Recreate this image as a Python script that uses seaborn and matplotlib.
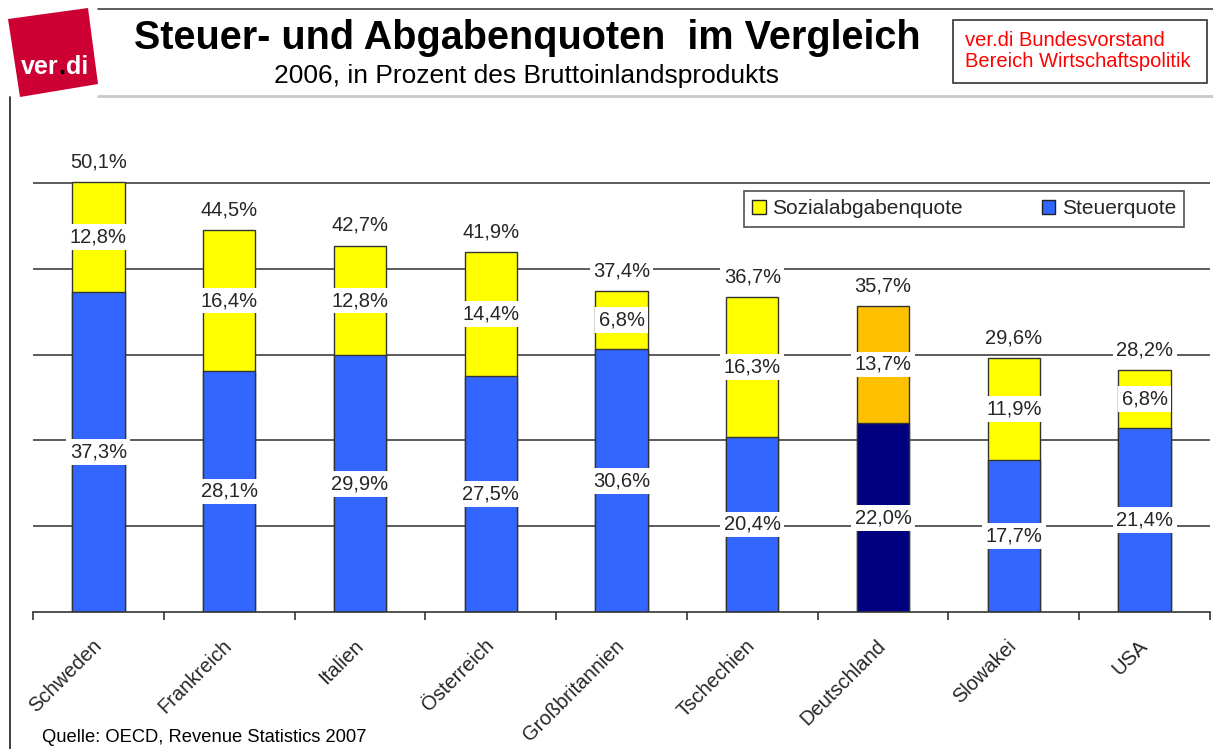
import numpy as np
import pandas as pd
import matplotlib
matplotlib.use("Agg")
import matplotlib.pyplot as plt
import seaborn as sns
from matplotlib.patches import Patch, Polygon, Rectangle

# data (2006, % of GDP)
countries = ["Schweden", "Frankreich", "Italien", "Österreich", "Großbritannien",
             "Tschechien", "Deutschland", "Slowakei", "USA"]
steuerquote = [37.3, 28.1, 29.9, 27.5, 30.6, 20.4, 22.0, 17.7, 21.4]
sozialquote = [12.8, 16.4, 12.8, 14.4, 6.8, 16.3, 13.7, 11.9, 6.8]
gesamtquote = [50.1, 44.5, 42.7, 41.9, 37.4, 36.7, 35.7, 29.6, 28.2]

BLUE = "#3366ff"
YELLOW = "#ffff00"
NAVY = "#000080"
ORANGE = "#ffc000"
highlight = "Deutschland"

df = pd.DataFrame({"land": countries, "steuer": steuerquote,
                   "sozial": sozialquote, "gesamt": gesamtquote})

sns.set_theme(style="white")
plt.rcParams["font.family"] = ["Liberation Sans", "DejaVu Sans"]

W, H = 1213, 749
fig = plt.figure(figsize=(W / 100, H / 100), dpi=100)

# background axes in pixel coords for the slide header
bg = fig.add_axes([0, 0, 1, 1], zorder=0)
bg.set_xlim(0, W)
bg.set_ylim(H, 0)
bg.axis("off")

bg.plot([98, W], [8.5, 8.5], color="#404040", lw=1.2)
bg.plot([98, W], [96, 96], color="#c8c8c8", lw=2)
bg.plot([9.5, 9.5], [97, H], color="#202020", lw=1.2)

# ver.di logo
bg.add_patch(Polygon([(8, 19), (88, 8), (98, 84), (20, 97)], closed=True,
                     facecolor="#cc0033", edgecolor="none"))
t1 = bg.text(21, 79, "ver", color="white", fontsize=18, fontweight="bold",
             ha="left", va="bottom")
t2 = bg.annotate(".", xy=(1, 0), xycoords=t1, color="black", fontsize=18,
                 fontweight="bold", ha="left", va="bottom")
bg.annotate("di", xy=(1, 0), xycoords=t2, color="white", fontsize=18,
            fontweight="bold", ha="left", va="bottom")

bg.text(527, 38, "Steuer- und Abgabenquoten  im Vergleich", fontsize=28.5,
        fontweight="bold", ha="center", va="center", color="black")
bg.text(527, 76, "2006, in Prozent des Bruttoinlandsprodukts", fontsize=19,
        ha="center", va="center", color="black")

bg.add_patch(Rectangle((952.5, 19.5), 254, 63.5, facecolor="white",
                       edgecolor="#333333", lw=1.2))
bg.text(965, 51, "ver.di Bundesvorstand\nBereich Wirtschaftspolitik",
        fontsize=14.5, color="#ff0000", ha="left", va="center", linespacing=1.12)

bg.text(42, 738, "Quelle: OECD, Revenue Statistics 2007", fontsize=13.2,
        ha="left", va="center", color="black")

# main chart
ymax = 58
ax = fig.add_axes([33 / W, 1 - 612 / H, 1177 / W, ymax * 8.58 / H], zorder=1)
ax.patch.set_alpha(0)

pal_top = {c: (ORANGE if c == highlight else YELLOW) for c in countries}
pal_bot = {c: (NAVY if c == highlight else BLUE) for c in countries}

# total height in yellow/orange, tax share in blue drawn over it
sns.barplot(data=df, x="land", y="gesamt", hue="land", palette=pal_top,
            width=0.4, edgecolor="#333333", linewidth=1.0, legend=False,
            saturation=1, ax=ax, zorder=2)
sns.barplot(data=df, x="land", y="steuer", hue="land", palette=pal_bot,
            width=0.4, edgecolor="#333333", linewidth=1.0, legend=False,
            saturation=1, ax=ax, zorder=2)

ax.set_xlim(-0.5, len(countries) - 0.5)
ax.set_ylim(0, ymax)
ax.set_yticks([10, 20, 30, 40, 50])
ax.set_yticklabels([])
ax.yaxis.grid(True, color="#404040", lw=1.2)
ax.set_axisbelow(True)
ax.tick_params(axis="y", length=0)
for s in ["left", "right", "top"]:
    ax.spines[s].set_visible(False)
ax.spines["bottom"].set_color("#333333")
ax.spines["bottom"].set_linewidth(1.2)
ax.set_xlabel("")
ax.set_ylabel("")

ax.set_xticks(range(len(countries)))
ax.set_xticklabels(countries, rotation=45, ha="right", va="center",
                   rotation_mode="anchor", fontsize=14.5)
ax.set_xticks(np.arange(-0.5, len(countries), 1), minor=True)
ax.tick_params(axis="x", which="major", length=0, pad=22)
ax.tick_params(axis="x", which="minor", length=6, width=1.2, color="#333333",
               direction="out", bottom=True)


def fmt(v):
    return f"{v:.1f}".replace(".", ",") + "%"


box = dict(facecolor="white", edgecolor="none", pad=2.5)
for i, row in df.iterrows():
    ax.text(i, row["steuer"] / 2, fmt(row["steuer"]), ha="center", va="center",
            fontsize=14.5, bbox=box, zorder=5)
    ax.text(i, row["steuer"] + row["sozial"] / 2, fmt(row["sozial"]), ha="center",
            va="center", fontsize=14.5, bbox=box, zorder=5)
    ax.annotate(fmt(row["gesamt"]), xy=(i, row["gesamt"]), xytext=(0, 14.5),
                textcoords="offset points", ha="center", va="center",
                fontsize=14.5, bbox=box, zorder=5)

handles = [Patch(facecolor=YELLOW, edgecolor="#222222", label="Sozialabgabenquote"),
           Patch(facecolor=BLUE, edgecolor="#222222", label="Steuerquote")]
leg = ax.legend(handles=handles, ncol=2, loc="upper left",
                bbox_to_anchor=(744 / W, 1 - 191 / H), bbox_transform=fig.transFigure,
                frameon=True, fancybox=False, fontsize=15, handlelength=0.65,
                handleheight=0.65, handletextpad=0.3, columnspacing=3.8,
                borderpad=0.4, borderaxespad=0)
leg.get_frame().set_edgecolor("#222222")
leg.get_frame().set_linewidth(1.2)

fig.savefig("out.png", dpi=100)
